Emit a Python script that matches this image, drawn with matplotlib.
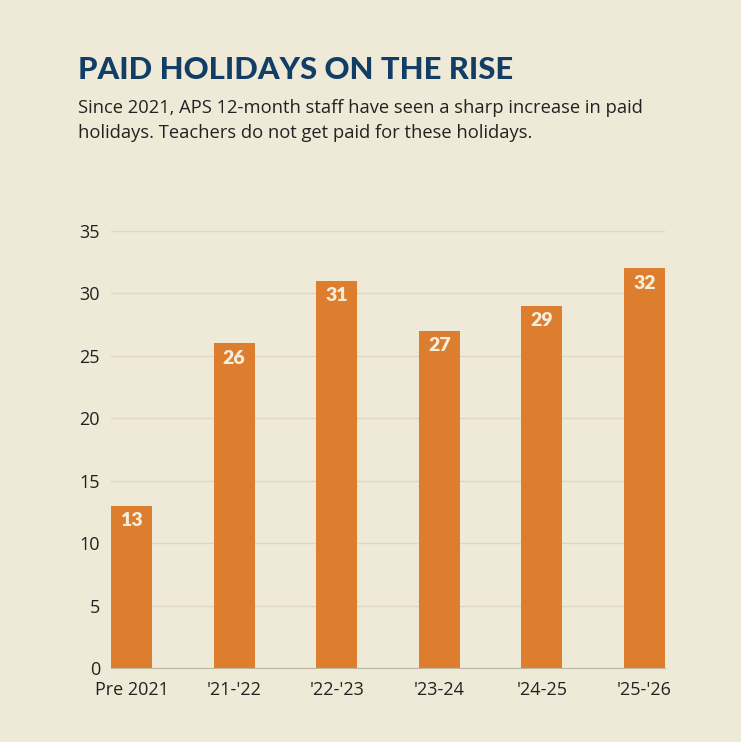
import matplotlib.pyplot as plt
import numpy as np

# data
categories = ["Pre 2021", "'21-'22", "'22-'23", "'23-24", "'24-25", "'25-'26"]
holidays = [13, 26, 31, 27, 29, 32]
yticks = [0, 5, 10, 15, 20, 25, 30, 35]

bg = "#EFEAD8"
bar_color = "#DC7E2E"
title_color = "#123D65"

fig = plt.figure(figsize=(7.41, 7.42), dpi=100, facecolor=bg)
ax = fig.add_axes([0.1498, 0.0997, 0.7476, 0.589])
ax.set_facecolor(bg)

x = np.arange(len(categories))
w = 0.4
ax.bar(x, holidays, width=w, color=bar_color, zorder=3)
ax.set_xlim(-w / 2, len(categories) - 1 + w / 2)
ax.set_ylim(0, 35)

for xi, v in zip(x, holidays):
    ax.text(xi, v - 0.5, str(v), ha="center", va="top", color="#F6EEDD",
            fontsize=14, fontweight="heavy", family="Lato", zorder=4)

ax.set_yticks(yticks)
ax.set_xticks(x)
ax.set_xticklabels(categories)
ax.tick_params(length=0, labelsize=13, colors="#222222")
ax.tick_params(axis="y", pad=8)
ax.tick_params(axis="x", pad=9)
for lab in ax.get_xticklabels() + ax.get_yticklabels():
    lab.set_family("Open Sans")
ax.grid(axis="y", color="#DCD6C2", linewidth=1, zorder=1)
for s in ["top", "right", "left"]:
    ax.spines[s].set_visible(False)
ax.spines["bottom"].set_color("#BDB9A0")
ax.spines["bottom"].set_zorder(5)

fig.text(0.105, 0.906, "PAID HOLIDAYS ON THE RISE", color=title_color,
         fontsize=22.3, fontweight="black", family="Lato", va="center")
fig.text(0.105, 0.866, "Since 2021, APS 12-month staff have seen a sharp increase in paid\n"
         "holidays. Teachers do not get paid for these holidays.",
         color="#222222", fontsize=13.2, family="Open Sans", va="top", linespacing=1.45)

fig.savefig("out.png", dpi=100, facecolor=bg)
